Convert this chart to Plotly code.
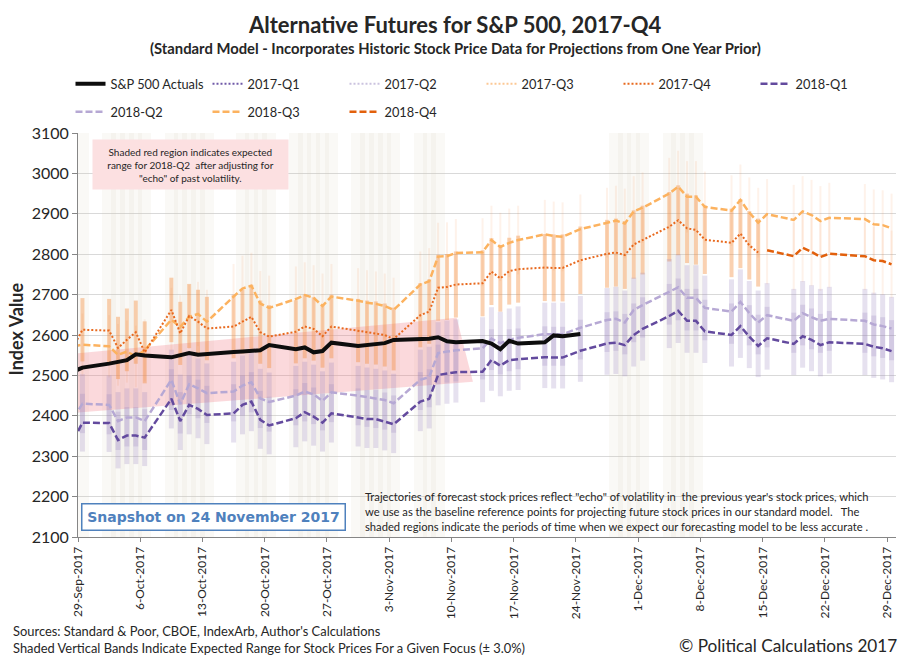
#!/usr/bin/env python3
"""
Alternative futures for the S&P 500, 2017-Q4 snapshot (24 Nov 2017).
Forecast trajectories with +/-3% range bars, actuals and shaded periods.
"""

import pandas as pd
import plotly.graph_objects as go

# ---- data --------------------------------------------------------------
TRADING_DAYS = [
    "2017-09-28", "2017-09-29",
    "2017-10-02", "2017-10-03", "2017-10-04", "2017-10-05", "2017-10-06",
    "2017-10-09", "2017-10-10", "2017-10-11", "2017-10-12", "2017-10-13",
    "2017-10-16", "2017-10-17", "2017-10-18", "2017-10-19", "2017-10-20",
    "2017-10-23", "2017-10-24", "2017-10-25", "2017-10-26", "2017-10-27",
    "2017-10-30", "2017-10-31", "2017-11-01", "2017-11-02", "2017-11-03",
    "2017-11-06", "2017-11-07", "2017-11-08", "2017-11-09", "2017-11-10",
    "2017-11-13", "2017-11-14", "2017-11-15", "2017-11-16", "2017-11-17",
    "2017-11-20", "2017-11-21", "2017-11-22", "2017-11-24",
    "2017-11-27", "2017-11-28", "2017-11-29", "2017-11-30", "2017-12-01",
    "2017-12-04", "2017-12-05", "2017-12-06", "2017-12-07", "2017-12-08",
    "2017-12-11", "2017-12-12", "2017-12-13", "2017-12-14", "2017-12-15",
    "2017-12-18", "2017-12-19", "2017-12-20", "2017-12-21", "2017-12-22",
    "2017-12-26", "2017-12-27", "2017-12-28", "2017-12-29",
]

# S&P 500 closes, 28-Sep-2017 .. 24-Nov-2017
ACTUALS = [
    2510.06, 2519.36,
    2529.12, 2534.58, 2537.74, 2552.07, 2549.33,
    2544.73, 2550.64, 2555.24, 2550.93, 2553.17,
    2557.64, 2559.36, 2561.26, 2562.10, 2575.21,
    2564.98, 2569.13, 2557.15, 2560.40, 2581.07,
    2572.83, 2575.26, 2579.36, 2579.85, 2587.84,
    2591.13, 2590.64, 2594.38, 2584.62, 2582.30,
    2584.84, 2578.87, 2564.62, 2585.64, 2578.85,
    2582.14, 2599.03, 2597.08, 2602.42,
]

# 2018-Q3 projection, every trading day
Q3_2018 = [
    2572, 2576,
    2572, 2551, 2559, 2547, 2562,
    2638, 2620, 2645, 2652, 2633,
    2695, 2715, 2722, 2678, 2667,
    2689, 2699, 2692, 2672, 2695,
    2685, 2680, 2677, 2672, 2662,
    2725, 2733, 2794, 2795, 2803,
    2805, 2835, 2818, 2828, 2835,
    2849, 2845, 2843, 2862,
    2878, 2883, 2876, 2906, 2915,
    2950, 2967, 2942, 2942, 2917,
    2908, 2934, 2903, 2878, 2899,
    2885, 2906, 2897, 2882, 2890,
    2887, 2874, 2872, 2864,
]

# 2017-Q4 projection, 28-Sep .. 14-Dec
Q4_2017 = [
    2571, 2613,
    2611, 2568, 2588, 2607, 2557,
    2662, 2604, 2647, 2633, 2616,
    2621, 2633, 2645, 2607, 2596,
    2608, 2621, 2615, 2597, 2621,
    2611, 2607, 2605, 2600, 2590,
    2649, 2658, 2717, 2719, 2725,
    2728, 2757, 2740, 2758, 2763,
    2767, 2766, 2766, 2785,
    2801, 2804, 2798, 2824, 2835,
    2868, 2884, 2864, 2860, 2836,
    2828, 2851, 2822, 2804,
]

# 2018-Q4 projection, 15-Dec .. 29-Dec
Q4_2018 = [2810, 2795, 2816, 2806, 2793, 2801, 2795, 2785, 2783, 2775]

# 2018-Q2 projection, every trading day
Q2_2018 = [
    2395, 2430,
    2427, 2387, 2396, 2396, 2387,
    2489, 2429, 2478, 2468, 2456,
    2460, 2475, 2483, 2443, 2434,
    2450, 2460, 2453, 2437, 2458,
    2450, 2446, 2443, 2439, 2431,
    2489, 2496, 2555, 2559, 2562,
    2567, 2591, 2580, 2588, 2593,
    2602, 2602, 2602, 2618,
    2637, 2640, 2631, 2662, 2674,
    2707, 2718, 2692, 2692, 2667,
    2658, 2682, 2654, 2631, 2649,
    2635, 2654, 2644, 2635, 2640,
    2635, 2626, 2622, 2616,
]

# 2018-Q1 projection, every trading day
Q1_2018 = [
    2340, 2383,
    2382, 2340, 2351, 2351, 2346,
    2442, 2387, 2427, 2417, 2402,
    2406, 2427, 2435, 2390, 2376,
    2394, 2409, 2398, 2383, 2406,
    2396, 2392, 2392, 2386, 2379,
    2435, 2442, 2501, 2505, 2508,
    2509, 2538, 2524, 2538, 2540,
    2545, 2544, 2544, 2561,
    2579, 2581, 2575, 2600, 2615,
    2647, 2660, 2635, 2635, 2609,
    2600, 2622, 2596, 2573, 2592,
    2578, 2597, 2588, 2575, 2582,
    2578, 2571, 2567, 2560,
]

# days when the model is expected to be less accurate
SHADED_DAYS = [
    "2017-09-29",
    "2017-10-02", "2017-10-03", "2017-10-04", "2017-10-05", "2017-10-06",
    "2017-10-09", "2017-10-10", "2017-10-11", "2017-10-12", "2017-10-13",
    "2017-10-17", "2017-10-18", "2017-10-19", "2017-10-20",
    "2017-10-23", "2017-10-24", "2017-10-25", "2017-10-26", "2017-10-27",
    "2017-10-30", "2017-10-31", "2017-11-01", "2017-11-02", "2017-11-03",
    "2017-11-06", "2017-11-07", "2017-11-08",
    "2017-11-28", "2017-11-29", "2017-11-30", "2017-12-01",
    "2017-12-04", "2017-12-05", "2017-12-06", "2017-12-07",
]

# red "echo" region for 2018-Q2 (corners)
ECHO_X = ["2017-09-29 00:00", "2017-11-10 14:00", "2017-11-12 10:00", "2017-09-29 00:00"]
ECHO_Y = [2555, 2643, 2484, 2408]

# ---- colours -----------------------------------------------------------
C_ACT = '#0D0D0D'
C_Q1_17 = '#705AA8'
C_Q2_17 = '#CBC3DF'
C_Q3_17 = '#FCC894'
C_Q4_17 = '#E8691E'
C_Q1_18 = '#634A9E'
C_Q2_18 = '#B6A8D4'
C_Q3_18 = '#FCB25F'
C_Q4_18 = '#E2600C'

FONT = 'Lato'
TXT = '#262626'

# ---- page geometry -----------------------------------------------------
W, H = 911, 662
L, R, T, B = 77.5, 15.3, 133, 125
PW, PH = W - L - R, H - T - B


def px(x, y):
    """pixel position on the page -> paper coordinates"""
    return (x - L) / PW, (H - B - y) / PH


def midday(days):
    # points sit in the middle of their day on the date axis
    return list((pd.to_datetime(days) + pd.Timedelta(hours=12)).strftime('%Y-%m-%d %H:%M'))


x_all = midday(TRADING_DAYS)
x_act = x_all[:len(ACTUALS)]
x_q4_17 = x_all[:len(Q4_2017)]
x_q4_18 = x_all[-len(Q4_2018):]

fig = go.Figure()

# shaded vertical columns
fig.add_trace(go.Bar(
    x=midday(SHADED_DAYS), y=[1000] * len(SHADED_DAYS), base=2100,
    width=1.5 * 86400000,
    marker=dict(color='rgba(214,208,180,0.12)', line=dict(width=0)),
    showlegend=False, hoverinfo='skip'
))

# red echo region
fig.add_trace(go.Scatter(
    x=ECHO_X, y=ECHO_Y, fill='toself', mode='lines',
    line=dict(width=0), fillcolor='rgba(240,120,130,0.28)',
    showlegend=False, hoverinfo='skip'
))


def band(x, y, color, thick):
    # +/- 3% expected range drawn as vertical bars
    fig.add_trace(go.Scatter(
        x=x, y=y, mode='markers', marker=dict(size=1, opacity=0),
        error_y=dict(type='percent', value=3, thickness=thick, width=0, color=color),
        showlegend=False, hoverinfo='skip'
    ))


band(x_all, Q3_2018, 'rgba(242,140,60,0.11)', 2)
band(x_q4_18, Q4_2018, 'rgba(242,140,60,0.11)', 2)
band(x_q4_17, Q4_2017, 'rgba(242,140,60,0.40)', 4)
band(x_all, Q2_2018, 'rgba(150,130,190,0.24)', 5)
band(x_all, Q1_2018, 'rgba(150,130,190,0.24)', 5)

# legend-only historic projections (outside this window)
for name, color, rank in [('2017-Q1', C_Q1_17, 2), ('2017-Q2', C_Q2_17, 3), ('2017-Q3', C_Q3_17, 4)]:
    fig.add_trace(go.Scatter(
        x=[x_all[0]], y=[None], mode='lines', name=name, legendrank=rank,
        line=dict(color=color, width=2, dash='2px,2px')
    ))

fig.add_trace(go.Scatter(
    x=x_all, y=Q2_2018, mode='lines', name='2018-Q2', legend='legend2', legendrank=7,
    line=dict(color=C_Q2_18, width=2.5, dash='7px,3px')
))
fig.add_trace(go.Scatter(
    x=x_all, y=Q1_2018, mode='lines', name='2018-Q1', legendrank=6,
    line=dict(color=C_Q1_18, width=2.5, dash='7px,3px')
))
fig.add_trace(go.Scatter(
    x=x_all, y=Q3_2018, mode='lines', name='2018-Q3', legend='legend2', legendrank=8,
    line=dict(color=C_Q3_18, width=2.5, dash='7px,3px')
))
fig.add_trace(go.Scatter(
    x=x_q4_17, y=Q4_2017, mode='lines', name='2017-Q4', legendrank=5,
    line=dict(color=C_Q4_17, width=2, dash='2px,2px')
))
fig.add_trace(go.Scatter(
    x=x_q4_18, y=Q4_2018, mode='lines', name='2018-Q4', legend='legend2', legendrank=9,
    line=dict(color=C_Q4_18, width=2.5, dash='7px,3px')
))
fig.add_trace(go.Scatter(
    x=x_act, y=ACTUALS, mode='lines', name='S&P 500 Actuals', legendrank=1,
    line=dict(color=C_ACT, width=4)
))

# ---- annotations ---------------------------------------------------------
ann = []


def note(x, y, text, size, family=FONT, color=TXT, **kw):
    ax, ay = px(x, y)
    d = dict(x=ax, y=ay, xref='paper', yref='paper', text=text, showarrow=False,
             xanchor='center', yanchor='middle',
             font=dict(family=family, size=size, color=color))
    d.update(kw)
    ann.append(d)


note(454, 24, '<b>Alternative Futures for S&P 500, 2017-Q4</b>', 22)
note(455.5, 48, '<b>(Standard Model - Incorporates Historic Stock Price Data for Projections from One Year Prior)</b>', 14.8)
note(15, 329, '<b>Index Value</b>', 18, textangle=-90)

note(190.2, 164.6,
     'Shaded red region indicates expected<br>range for 2018-Q2  after adjusting for<br>"echo" of past volatility.',
     10, bgcolor='#FCE0E1', width=195, height=49, borderpad=0)

note(213.5, 517.2, '<b>Snapshot on 24 November 2017</b>', 14, family='DejaVu Sans', color='#4F81BD',
     bgcolor='white', bordercolor='#4F81BD', borderwidth=1.5, borderpad=4,
     width=254, height=17)

for i, line in enumerate([
    'Trajectories of forecast stock prices reflect "echo" of volatility in  the previous year\'s stock prices, which',
    'we use as the baseline reference points for projecting future stock prices in our standard model.   The',
    'shaded regions indicate the periods of time when we expect our forecasting model to be less accurate .',
]):
    note(363, 496 + 15 * i, line, 11.2, xanchor='left')

note(10, 631, "Sources: Standard & Poor, CBOE, IndexArb, Author's Calculations", 12.9, xanchor='left')
note(10, 648, 'Shaded Vertical Bands Indicate Expected Range for Stock Prices For a Given Focus (± 3.0%)', 12.9, xanchor='left')
note(899, 645, '© Political Calculations 2017', 17.2, xanchor='right')

lx, ly1 = px(70, 84)
_, ly2 = px(70, 112)
legend_style = dict(orientation='h', x=lx, xanchor='left', yanchor='middle',
                    entrywidth=92, entrywidthmode='pixels',
                    font=dict(family=FONT, size=12.8, color=TXT), bgcolor='rgba(0,0,0,0)')

fig.update_layout(
    width=W, height=H,
    margin=dict(l=L, r=R, t=T, b=B),
    paper_bgcolor='white', plot_bgcolor='white',
    font=dict(family=FONT, color=TXT),
    annotations=ann,
    showlegend=True,
    legend=dict(legend_style, y=ly1),
    legend2=dict(legend_style, y=ly2),
    bargap=0,
)

fig.update_xaxes(
    type='date', range=['2017-09-29', '2017-12-30'], automargin=False,
    tick0='2017-09-29', dtick=7 * 86400000, tickformat='%-d-%b-%Y',
    tickangle=-90, tickfont=dict(family=FONT, size=12, color=TXT),
    showgrid=False, showline=True, linecolor='#868686', linewidth=1,
    ticks='outside', ticklen=4, tickcolor='#868686'
)
fig.update_yaxes(
    range=[2100, 3100], dtick=100, tick0=2100, automargin=False,
    tickfont=dict(family=FONT, size=16, color=TXT),
    showgrid=True, gridcolor='#D9D9D9', gridwidth=1, zeroline=False,
    showline=True, linecolor='#868686', linewidth=1,
    ticks='outside', ticklen=5, tickcolor='#868686'
)

# the page body keeps an 8px default margin; drop it so the figure sits at 0,0
fig.write_html("out.html", config={'displayModeBar': False},
               post_script="document.body.style.margin='0';")
